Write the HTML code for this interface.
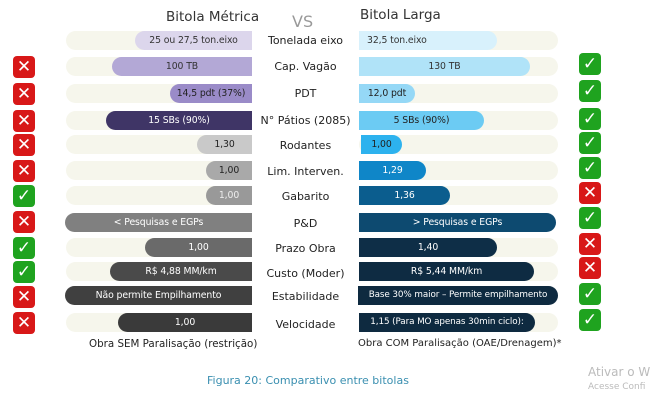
<!DOCTYPE html>
<html><head><meta charset="utf-8"><style>
body{margin:0;width:664px;height:406px;background:#fff;position:relative;overflow:hidden;font-family:"DejaVu Sans","Liberation Sans",sans-serif;}
.a{position:absolute;}
.t{position:absolute;height:19px;background:#f6f6ec;border-radius:10px;}
.b{position:absolute;height:19px;font-size:9.3px;line-height:19px;text-align:center;white-space:nowrap;letter-spacing:-0.1px;}
.l{border-radius:10px 0 0 10px;}
.r{border-radius:0 10px 10px 0;}
.lab{position:absolute;left:252px;width:107px;text-align:center;font-size:11px;color:#222;}
.ic{position:absolute;width:22px;height:22px;border-radius:4px;color:#fff;font-size:17px;font-weight:bold;line-height:22px;text-align:center;}
.x{background:#d81818;}
.c{background:#1fa31f;}
</style></head><body>
<div class="a" style="left:166px;top:9px;font-size:13.5px;color:#333">Bitola Métrica</div>
<div class="a" style="left:292px;top:12px;font-size:16px;color:#999">VS</div>
<div class="a" style="left:360px;top:7px;font-size:13.5px;color:#333">Bitola Larga</div>

<div class="t" style="left:66px;top:31px;width:186px"></div><div class="b l" style="left:135px;top:31px;width:117px;background:#dcd6ec;color:#333">25 ou 27,5 ton.eixo</div>
<div class="t" style="left:359px;top:31px;width:199px"></div><div class="b r" style="left:359px;top:31px;width:138px;background:#d8f1fc;color:#333;text-align:left;padding-left:8px;box-sizing:border-box">32,5 ton.eixo</div>
<div class="lab" style="top:34px">Tonelada eixo</div>

<div class="t" style="left:66px;top:57px;width:186px"></div><div class="b l" style="left:112px;top:57px;width:140px;background:#b3a8d6;color:#333">100 TB</div>
<div class="t" style="left:359px;top:57px;width:199px"></div><div class="b r" style="left:359px;top:57px;width:171px;background:#b0e3f8;color:#333">130 TB</div>
<div class="lab" style="top:60px">Cap. Vagão</div>

<div class="t" style="left:66px;top:84px;width:186px"></div><div class="b l" style="left:170px;top:84px;width:82px;background:#9a8bc8;color:#222">14,5 pdt (37%)</div>
<div class="t" style="left:359px;top:84px;width:199px"></div><div class="b r" style="left:359px;top:84px;width:56px;background:#95d8f6;color:#222">12,0 pdt</div>
<div class="lab" style="top:87px">PDT</div>

<div class="t" style="left:66px;top:111px;width:186px"></div><div class="b l" style="left:106px;top:111px;width:146px;background:#3f3566;color:#fff">15 SBs (90%)</div>
<div class="t" style="left:359px;top:111px;width:199px"></div><div class="b r" style="left:359px;top:111px;width:125px;background:#6ccbf3;color:#222">5 SBs (90%)</div>
<div class="lab" style="top:114px">N° Pátios (2085)</div>

<div class="t" style="left:66px;top:135px;width:186px"></div><div class="b l" style="left:197px;top:135px;width:55px;background:#c9c9c9;color:#222">1,30</div>
<div class="t" style="left:359px;top:135px;width:199px"></div><div class="b r" style="left:361px;top:135px;width:41px;background:#2db2ee;color:#222">1,00</div>
<div class="lab" style="top:139px">Rodantes</div>

<div class="t" style="left:66px;top:161px;width:186px"></div><div class="b l" style="left:206px;top:161px;width:46px;background:#a9a9a9;color:#222">1,00</div>
<div class="t" style="left:359px;top:161px;width:199px"></div><div class="b r" style="left:359px;top:161px;width:67px;background:#0f86c8;color:#fff">1,29</div>
<div class="lab" style="top:165px">Lim. Interven.</div>

<div class="t" style="left:66px;top:186px;width:186px"></div><div class="b l" style="left:206px;top:186px;width:46px;background:#999;color:#eee">1,00</div>
<div class="t" style="left:359px;top:186px;width:199px"></div><div class="b r" style="left:359px;top:186px;width:91px;background:#0b5d8e;color:#fff">1,36</div>
<div class="lab" style="top:190px">Gabarito</div>

<div class="b l" style="left:65px;top:213px;width:187px;background:#808080;color:#fff">&lt; Pesquisas e EGPs</div>
<div class="b r" style="left:359px;top:213px;width:197px;background:#0d4a70;color:#fff">&gt; Pesquisas e EGPs</div>
<div class="lab" style="top:217px">P&amp;D</div>

<div class="t" style="left:66px;top:238px;width:186px"></div><div class="b l" style="left:145px;top:238px;width:107px;background:#6a6a6a;color:#fff">1,00</div>
<div class="t" style="left:359px;top:238px;width:199px"></div><div class="b r" style="left:359px;top:238px;width:138px;background:#0e2e47;color:#fff">1,40</div>
<div class="lab" style="top:242px">Prazo Obra</div>

<div class="t" style="left:66px;top:262px;width:186px"></div><div class="b l" style="left:110px;top:262px;width:142px;background:#4a4a4a;color:#fff">R$ 4,88 MM/km</div>
<div class="t" style="left:359px;top:262px;width:199px"></div><div class="b r" style="left:359px;top:262px;width:175px;background:#0e2b42;color:#fff">R$ 5,44 MM/km</div>
<div class="lab" style="top:267px">Custo (Moder)</div>

<div class="b l" style="left:65px;top:286px;width:187px;background:#404040;color:#fff">Não permite Empilhamento</div>
<div class="b r" style="left:358px;top:286px;width:200px;background:#0e2a40;color:#fff;font-size:8.8px">Base 30% maior – Permite empilhamento</div>
<div class="lab" style="top:290px">Estabilidade</div>

<div class="t" style="left:66px;top:313px;width:186px"></div><div class="b l" style="left:118px;top:313px;width:134px;background:#3a3a3a;color:#fff">1,00</div>
<div class="t" style="left:359px;top:313px;width:199px"></div><div class="b r" style="left:359px;top:313px;width:176px;background:#0e2a40;color:#fff;font-size:8.8px">1,15 (Para MO apenas 30min ciclo):</div>
<div class="lab" style="top:318px">Velocidade</div>

<div class="a" style="left:89px;top:338px;font-size:10.3px;color:#222;white-space:nowrap">Obra SEM Paralisação (restrição)</div>
<div class="a" style="left:358px;top:338px;font-size:10px;color:#222;white-space:nowrap">Obra COM Paralisação (OAE/Drenagem)*</div>
<div class="a" style="left:207px;top:374px;font-size:11px;color:#3a8fb0;white-space:nowrap">Figura 20: Comparativo entre bitolas</div>
<div class="a" style="left:588px;top:365px;font-size:12px;color:#bbb;white-space:nowrap">Ativar o W</div>
<div class="a" style="left:588px;top:382px;font-size:9px;color:#bbb;white-space:nowrap">Acesse Confi</div>

<div class="ic x" style="left:13px;top:56px">✕</div>
<div class="ic x" style="left:13px;top:83px">✕</div>
<div class="ic x" style="left:13px;top:110px">✕</div>
<div class="ic x" style="left:13px;top:134px">✕</div>
<div class="ic x" style="left:13px;top:160px">✕</div>
<div class="ic c" style="left:13px;top:185px">✓</div>
<div class="ic x" style="left:13px;top:211px">✕</div>
<div class="ic c" style="left:13px;top:237px">✓</div>
<div class="ic c" style="left:13px;top:261px">✓</div>
<div class="ic x" style="left:13px;top:286px">✕</div>
<div class="ic x" style="left:13px;top:312px">✕</div>

<div class="ic c" style="left:579px;top:53px">✓</div>
<div class="ic c" style="left:579px;top:80px">✓</div>
<div class="ic c" style="left:579px;top:108px">✓</div>
<div class="ic c" style="left:579px;top:132px">✓</div>
<div class="ic c" style="left:579px;top:157px">✓</div>
<div class="ic x" style="left:579px;top:182px">✕</div>
<div class="ic c" style="left:579px;top:207px">✓</div>
<div class="ic x" style="left:579px;top:233px">✕</div>
<div class="ic x" style="left:579px;top:257px">✕</div>
<div class="ic c" style="left:579px;top:283px">✓</div>
<div class="ic c" style="left:579px;top:309px">✓</div>
</body></html>
